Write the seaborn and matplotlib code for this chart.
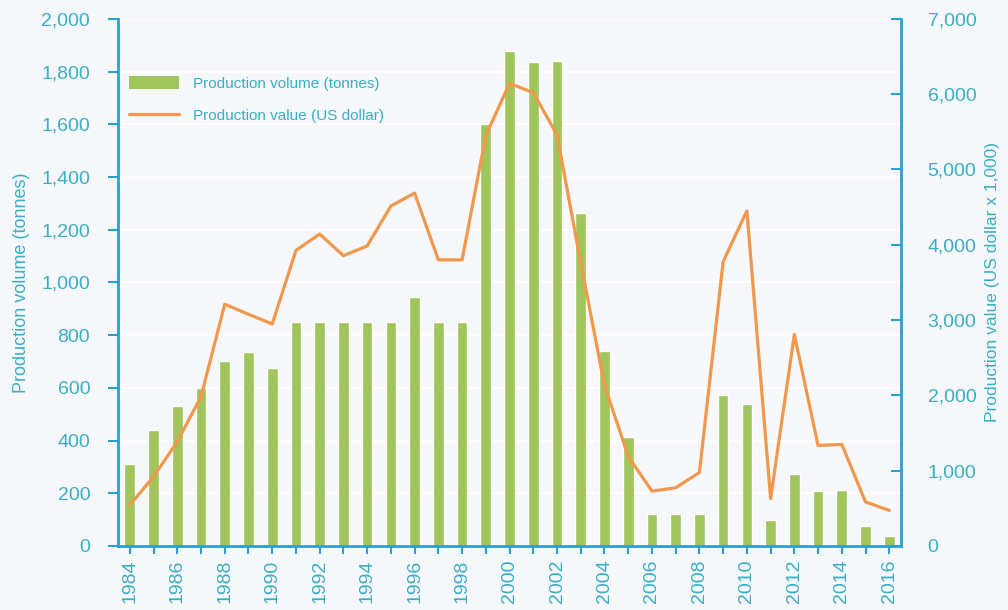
import numpy as np
import pandas as pd
import matplotlib
matplotlib.use("Agg")
import matplotlib.pyplot as plt
import matplotlib.ticker as mticker
from matplotlib.patches import Patch
from matplotlib.lines import Line2D
import seaborn as sns

years = list(range(1984, 2017))
volume_tonnes = [310, 440, 530, 600, 700, 737, 675, 850, 850, 850, 850, 850, 945, 850, 850,
                 1600, 1878, 1838, 1842, 1264, 740, 413, 123, 123, 123, 574, 538, 97, 273,
                 209, 213, 77, 39]
value_usd_k = [544, 920, 1385, 1983, 3210, 3077, 2948, 3925, 4143, 3855, 3984, 4515, 4686,
               3800, 3800, 5450, 6145, 6020, 5461, 3760, 2135, 1191, 728, 773, 975, 3775,
               4450, 629, 2809, 1335, 1348, 584, 472]
left_ticks = list(range(0, 2001, 200))
right_ticks = list(range(0, 7001, 1000))
label_volume = "Production volume (tonnes)"
label_value = "Production value (US dollar)"
ylabel_left = "Production volume (tonnes)"
ylabel_right = "Production value (US dollar x 1,000)"

df = pd.DataFrame({"year": years, "volume": volume_tonnes, "value": value_usd_k})

BG = "#F6F8FB"
SPINE = "#2A9FD3"
TEXT = "#3AAEC6"
GREEN = "#9FC55C"
ORANGE = "#F1984C"

sns.set_theme(style="white")
plt.rcParams["font.family"] = ["Liberation Sans", "DejaVu Sans"]

fig = plt.figure(figsize=(10.08, 6.10), dpi=100, facecolor=BG)
ax = fig.add_axes([0.117, 0.105, 0.777, 0.864])
ax.set_facecolor(BG)

sns.barplot(data=df, x="year", y="volume", native_scale=True, width=0.45,
            color=GREEN, saturation=1, ax=ax, zorder=2)

ax2 = ax.twinx()
sns.lineplot(data=df, x="year", y="value", color=ORANGE, linewidth=2.3, ax=ax2, zorder=3)

ax.set_xlim(years[0] - 0.5, years[-1] + 0.5)
ax.set_ylim(left_ticks[0], left_ticks[-1])
ax2.set_ylim(right_ticks[0], right_ticks[-1])

ax.set_yticks(left_ticks)
ax2.set_yticks(right_ticks)
ax.yaxis.set_major_formatter(mticker.FuncFormatter(lambda v, p: f"{int(v):,}"))
ax2.yaxis.set_major_formatter(mticker.FuncFormatter(lambda v, p: f"{int(v):,}"))

ax.set_xticks(years)
ax.set_xticklabels([str(y) if y % 2 == 0 else "" for y in years], rotation=90)

ax.grid(axis="y", color="white", linewidth=1.5, zorder=0)
ax.set_axisbelow(True)

for a in (ax, ax2):
    for s in a.spines.values():
        s.set_visible(False)
ax.spines["left"].set_visible(True)
ax.spines["bottom"].set_visible(True)
ax2.spines["right"].set_visible(True)
for s in (ax.spines["left"], ax.spines["bottom"], ax2.spines["right"]):
    s.set_color(SPINE)
    s.set_linewidth(2)

ax.tick_params(axis="y", direction="out", length=7, width=1.5, color=SPINE,
               labelcolor=TEXT, labelsize=14, pad=13, left=True)
ax.tick_params(axis="x", direction="out", length=6, width=1.5, color=SPINE,
               labelcolor=TEXT, labelsize=14, pad=4, bottom=True)
ax2.tick_params(axis="y", direction="in", length=7, width=1.5, color=SPINE,
                labelcolor=TEXT, labelsize=14, pad=19, right=True)

ax.set_xlabel("")
ax.set_ylabel(ylabel_left, color=TEXT, fontsize=13, labelpad=8)
ax2.set_ylabel(ylabel_right, color=TEXT, fontsize=12.5, labelpad=6)

handles = [Patch(facecolor=GREEN, edgecolor="none"),
           Line2D([], [], color=ORANGE, linewidth=2.3)]
ax2.legend(handles, [label_volume, label_value], loc="upper left",
           bbox_to_anchor=(-0.004, 0.917), frameon=False, fontsize=11,
           labelcolor=TEXT, handlelength=3.3, handleheight=0.9,
           handletextpad=0.9, labelspacing=1.15)

fig.savefig("out.png", dpi=100, facecolor=BG)
